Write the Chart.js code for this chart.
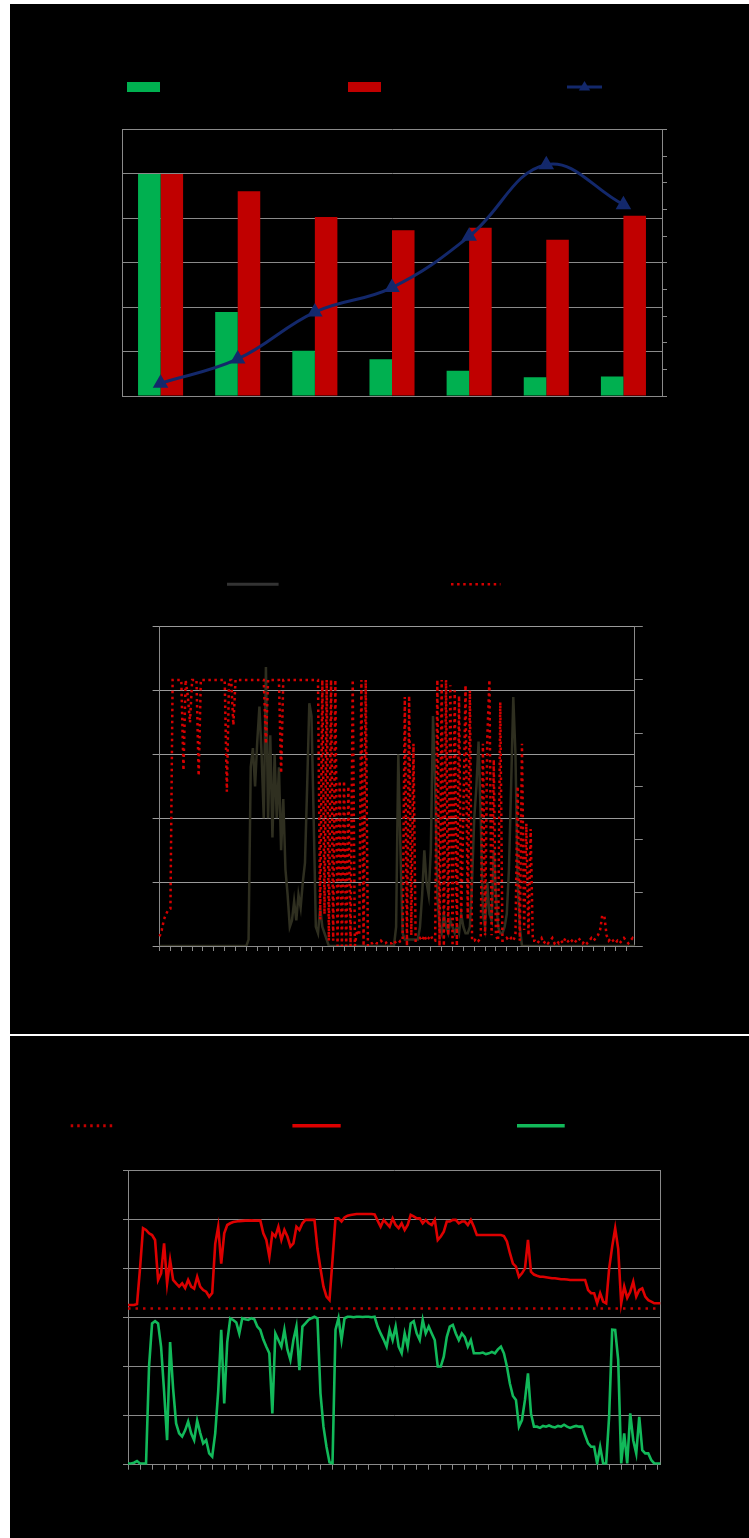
<!DOCTYPE html>
<html>
<head>
<meta charset="utf-8">
<script src="https://cdn.jsdelivr.net/npm/chart.js@4.4.1/dist/chart.umd.min.js"></script>
<style>
  html, body { margin: 0; padding: 0; background: #fff; }
  body { width: 749px; height: 1538px; position: relative; overflow: hidden; font-family: "Liberation Sans", Arial, sans-serif; }
  .panel { position: absolute; left: 10px; width: 739px; background: #000; }
  #p1 { top: 4px; height: 1030px; }
  #p2 { top: 1036px; height: 502px; }
  canvas { position: absolute; left: 0; }
</style>
</head>
<body>
<div class="panel" id="p1">
  <canvas id="c1" width="739" height="500" style="top:0"></canvas>
  <canvas id="c2" width="739" height="530" style="top:496px"></canvas>
</div>
<div class="panel" id="p2">
  <canvas id="c3" width="739" height="502" style="top:0"></canvas>
</div>
<script>
// ---------- chart 1: grouped bars with an index line ----------
const groupLabels = ['1', '2', '3', '4', '5', '6', '7'];
const shareValues = [50, 18.9, 10.2, 8.3, 5.7, 4.2, 4.4];
const rateValues = [50, 46.1, 40.3, 37.3, 37.9, 35.2, 40.6];
const indexValues = [0.48, 1.39, 3.15, 4.07, 5.99, 8.68, 7.18];
const leftTicks1 = { min: 0, max: 60, step: 10 };
const rightTicks1 = { min: 0, max: 10, step: 1 };

// ---------- chart 2: two sampled signals ----------
const loadSignal = [
  0,0,0,0,0,0,0,0,0,0, 0,0,0,0,0,0,0,0,0,0, 0,0,0,0,0,0,0,0,0,0, 0,0,0,0,0,0,0,0,0,0, 0,
  0.1,2.8,3.1,2.5,3.2,3.75,3.0,2.0,4.37,
  2.0,3.3,1.7,3.0,2.0,2.8,1.5,2.3,1.2,0.8,
  0.3,0.4,0.7,0.4,0.8,0.6,1.0,1.3,2.5,3.8,
  3.6,2.0,0.3,0.2,0.6,0.3,0.2,0.1,0,0,
  0,0,0,0,0,0,0,0,0,0, 0,0,0,0,0,0,0,0,0,0, 0,0,0,0,0,0,0,0,0,
  0.3,3.0,1.5,0.2,0.1,0.1,0.1,0.1,0.1,0.1,
  0.1,0.3,0.8,1.5,1.0,0.8,1.5,3.6,2.5,0.8,
  0.3,0.2,0.5,0.3,0.2,0.4,0.3,0.2,0.3,0.2,0.5,0.3,
  0.2,0.2,0.3,1.0,2.0,2.5,3.2,2.0,0.5,0.3,
  1.0,0.5,0.4,1.5,0.8,0.3,0.2,0.2,0.3,0.5,
  1.2,2.5,3.9,3.0,1.0,0.3,
  0,0,0,0,0,0,0,0,0,0, 0,0,0,0,0,0,0,0,0,0, 0,0,0,0,0,0,0,0,0,0,
  0,0,0,0,0,0,0,0,0,0, 0,0,0,0,0,0,0,0,0,0, 0,0,0
];
const stateSignal = [
  0.18,0.3,0.5,0.6,0.68,0.7,5,5,5,5,
  5,3.3,5,4.7,4.2,5,5,5,3.2,5,
  5,5,5,5,5,5,5,5,5,5,
  5,2.9,5,5,4.15,5,5,5,5,5,
  5,5,5,5,5,5,5,5,5,3.8,
  5,5,5,5,5,5,3.25,5,5,5,
  5,5,5,5,5,5,5,5,5,5,
  5,5,5,5,0.5,5,0.6,5,0.1,5,
  0.1,5,0,3.1,0,3.1,0,3,0,5,
  0,0.3,0.2,5,0,5,0,0.05,0.05,0.08,
  0.05,0.05,0.1,0.05,0.05,0.08,0.05,0.05,0.1,0.05,
  0.05,0.1,0.1,4.68,0,4.7,0.2,3.8,0.1,0.1,
  0.15,0.1,0.2,0.1,0.15,0.2,0.1,0.1,5,0,
  5,0,5,0.2,4.9,0,4.8,0,4.7,0.5,
  2.5,4.9,0.5,4.8,0.1,0.1,0.15,0.1,0.15,3.8,
  0.2,3.9,5,0.2,3.5,0.2,0.1,4.58,0.1,0.1,
  0.15,0.1,0.15,0.1,0.2,3,0.1,3.8,0.3,2.3,
  0.2,2.2,0.1,0.1,0.05,0.1,0.15,0.05,0.1,0.05,
  0.1,0.15,0.05,0.1,0.05,0.1,0.05,0.15,0.1,0.05,
  0.1,0.05,0.1,0.15,0.1,0.05,0.1,0.05,0.1,0.15,
  0.1,0.15,0.2,0.3,0.58,0.55,0.2,0.1,0.15,0.1,
  0.05,0.1,0.05,0.1,0.15,0.1,0.05,0.1,0.15,0.1
];
const leftTicks2 = { min: 0, max: 5, step: 1 };
const rightTicks2 = { min: 0, max: 6, step: 1 };
const tickEvery2 = 5;

// ---------- chart 3: two levels and a reference line ----------
const upperLevel = [
  65.1,65.1,65.1,65.5,80,96.4,95.7,94.3,93.6,91.6,
  75.3,78,90.2,73.9,83.4,75.3,73.9,72.6,73.9,72,
  75.3,72.6,71.8,76.6,72.6,71.2,70.5,68.5,70,90,
  97,82,94.3,97.7,98.4,98.9,99.1,99.3,99.4,99.5,
  99.5,99.6,99.5,99.5,99.5,94.3,91.6,84.8,94.3,93,
  97,91.6,95.7,93,88.9,90.2,97,95.7,98.4,99.8,
  99.8,99.8,99.8,88,80,72.6,68.5,67.1,83.4,100.4,
  100.4,99.1,100.8,101.5,101.8,102,102.2,102.2,102.2,102.2,
  102.2,102.2,102,99.5,97,99.8,98.4,97,100.4,97.7,
  96.4,98.4,95.7,97.7,101.8,101.2,100.4,100.4,98.4,99.8,
  98.4,97.7,99.8,91.6,93,95,99.1,99.1,99.8,99.8,
  98.4,99.1,99.1,97.7,99.8,97,93.6,93.6,93.6,93.6,
  93.6,93.6,93.6,93.6,93.6,93.2,91,86.2,82,80.7,
  76.6,78,80,91.6,78.7,77.5,77,76.6,76.6,76.4,
  76.2,76,76,75.8,75.6,75.6,75.5,75.3,75.3,75.3,
  75.3,75.3,75.3,71.2,69.9,69.9,65.8,69.9,66.5,65.8,
  80,88.9,96.4,88,65.8,72.6,68,70.5,74.6,68.5,
  71.2,71.9,68.5,67.1,66.5,65.8,65.8,65.8
];
const lowerLevel = [
  0.5,0.5,0.8,1.5,0.5,0.5,0.5,40,57.6,58.5,
  57.6,48,30,10,50,31,16.8,12.8,11.5,14,
  17.6,12.8,10,18,13,8.7,10,4.6,3.3,12.8,
  30,55,25,50,59.7,59,58,53.5,59.7,59.3,
  59,59.7,59.3,56.3,54.9,51,48.1,45.4,20.9,53.5,
  50.8,48.1,55,47,42.7,50.8,56.3,38.5,56.3,57.6,
  59,59.7,60.3,59.7,29.1,15.5,7.3,1,0.5,55,
  59.7,50.8,59.7,60.3,60.3,60.1,60.3,60.3,60.2,60.3,
  60.3,60.1,60.3,56.3,53.5,51,48.1,55,50.8,56.3,
  48.1,45.4,53.5,48.1,57.6,58.5,53.5,50.8,59,53.5,
  56.3,53.5,50.8,40,40,44,52,56.3,57,53.5,
  50.8,53.5,52,48.1,50.8,45.4,45.4,45.4,45.7,45.1,
  45.4,46,45.4,47,48.1,45.4,40,33,28,26.4,
  15.5,18.2,26.4,37.2,20.9,15.5,15.5,15,15.8,15.5,
  16,15.5,15.2,15.8,15.5,16.3,15.5,15,15.5,15.8,
  15.5,15.5,12,8.7,7.3,7.3,0.5,7.3,0.5,0.5,
  20,55,54.9,42.7,0.5,12.8,0.5,20.9,10,4.6,
  19.5,5.9,4.6,4.6,1.9,0.5,0.5,0.5
];
const referenceLevel = 63.7;
const leftTicks3 = { min: 0, max: 120, step: 20 };
const tickEvery3 = 4;

// ---------- shared styling ----------
const axisGray = '#8a8a8a';
const textBlack = '#000000';
const navy = '#13286b';
const barGreen = '#00b050';
const barRed = '#c00000';

Chart.defaults.font.family = '"Liberation Sans", Arial, sans-serif';
Chart.defaults.font.size = 11;
Chart.defaults.color = textBlack;

function fixedSize(size) {
  return scale => {
    if (scale.isHorizontal()) scale.height = size; else scale.width = size;
  };
}

function sampleLabels(values) {
  return values.map((_, i) => String(i));
}

// legend drawn at fixed spots above each plot, using each dataset's own style
const placedLegend = {
  id: 'placedLegend',
  afterDraw(chart, args, opts) {
    const ctx = chart.ctx;
    (opts.items || []).forEach(it => {
      const ds = chart.data.datasets[it.ds];
      ctx.save();
      if (it.kind === 'box') {
        ctx.fillStyle = ds.backgroundColor;
        ctx.fillRect(it.x, it.y - it.h / 2, it.w, it.h);
      } else {
        ctx.strokeStyle = it.color || ds.borderColor;
        ctx.lineWidth = it.lw || ds.borderWidth;
        ctx.lineCap = 'butt';
        ctx.setLineDash(it.dash || []);
        ctx.beginPath();
        ctx.moveTo(it.x, it.y);
        ctx.lineTo(it.x + it.w, it.y);
        ctx.stroke();
        if (it.marker === 'triangle') {
          const cx = it.x + it.w / 2, r = 6;
          ctx.setLineDash([]);
          ctx.fillStyle = ds.borderColor;
          ctx.beginPath();
          ctx.moveTo(cx, it.y - r);
          ctx.lineTo(cx + r * 0.95, it.y + r * 0.6);
          ctx.lineTo(cx - r * 0.95, it.y + r * 0.6);
          ctx.closePath();
          ctx.fill();
        }
      }
      ctx.fillStyle = textBlack;
      ctx.font = '12px "Liberation Sans", Arial, sans-serif';
      ctx.textBaseline = 'middle';
      ctx.fillText(ds.label, it.x + it.w + 6, it.y);
      ctx.restore();
    });
  }
};

// ---------- chart 1 ----------
new Chart(document.getElementById('c1'), {
  type: 'bar',
  data: {
    labels: groupLabels,
    datasets: [
      {
        type: 'line', label: 'Index', data: indexValues, yAxisID: 'y1',
        borderColor: navy, backgroundColor: navy, borderWidth: 3, tension: 0.4,
        pointStyle: 'triangle', pointRadius: 6, pointBackgroundColor: navy,
        pointBorderColor: navy, order: 0
      },
      {
        label: 'Share', data: shareValues, yAxisID: 'y', backgroundColor: barGreen,
        categoryPercentage: 0.584, barPercentage: 1, order: 1
      },
      {
        label: 'Rate', data: rateValues, yAxisID: 'y', backgroundColor: barRed,
        categoryPercentage: 0.584, barPercentage: 1, order: 1
      }
    ]
  },
  options: {
    responsive: false, animation: false, events: [],
    layout: { padding: { left: 92, right: 67, top: 125.5, bottom: 88 } },
    plugins: {
      legend: { display: false }, tooltip: { enabled: false },
      placedLegend: {
        items: [
          { ds: 1, kind: 'box', x: 117, y: 83, w: 33, h: 10 },
          { ds: 2, kind: 'box', x: 338, y: 83, w: 33, h: 10 },
          { ds: 0, kind: 'line', x: 557, y: 83, w: 35, lw: 3, marker: 'triangle' }
        ]
      }
    },
    scales: {
      x: {
        grid: { display: false }, border: { color: axisGray },
        ticks: { color: textBlack }, afterFit: fixedSize(20)
      },
      y: {
        min: leftTicks1.min, max: leftTicks1.max,
        ticks: { stepSize: leftTicks1.step, color: textBlack },
        grid: { color: axisGray, drawTicks: false }, border: { color: axisGray },
        afterFit: fixedSize(20)
      },
      y1: {
        position: 'right', min: rightTicks1.min, max: rightTicks1.max,
        ticks: { stepSize: rightTicks1.step, color: textBlack },
        grid: { drawOnChartArea: false, color: axisGray, tickLength: 5 },
        border: { color: axisGray }, afterFit: fixedSize(20)
      }
    }
  },
  plugins: [placedLegend]
});

// ---------- chart 2 ----------
const labels2 = sampleLabels(stateSignal);
new Chart(document.getElementById('c2'), {
  type: 'line',
  data: {
    labels: labels2,
    datasets: [
      {
        label: 'Load', data: loadSignal, yAxisID: 'y', borderColor: '#2f2f20',
        borderWidth: 2.5, pointRadius: 0, tension: 0, order: 1
      },
      {
        label: 'State', data: stateSignal, yAxisID: 'y1', borderColor: '#d40000',
        borderWidth: 2.5, borderDash: [2.5, 3.5], pointRadius: 0, tension: 0, order: 0
      }
    ]
  },
  options: {
    responsive: false, animation: false, events: [],
    layout: { padding: { left: 129.6, right: 94.2, top: 126.7, bottom: 64 } },
    plugins: {
      legend: { display: false }, tooltip: { enabled: false },
      placedLegend: {
        items: [
          { ds: 0, kind: 'line', x: 217, y: 84.3, w: 51.6, lw: 3, color: '#333333' },
          { ds: 1, kind: 'line', x: 441, y: 84.3, w: 49.5, lw: 2.5, dash: [2.5, 3.6] }
        ]
      }
    },
    scales: {
      x: {
        grid: { drawOnChartArea: false, color: axisGray, tickLength: 5 },
        border: { color: axisGray },
        ticks: {
          autoSkip: false, maxRotation: 0, color: textBlack, font: { size: 8 },
          callback: (v, i) => (i % tickEvery2 === 0 ? labels2[i] : null)
        },
        afterFit: fixedSize(20)
      },
      y: {
        min: leftTicks2.min, max: leftTicks2.max,
        ticks: { stepSize: leftTicks2.step, color: textBlack },
        grid: { color: '#9a9a9a', tickLength: 7 }, border: { color: axisGray },
        afterFit: fixedSize(20)
      },
      y1: {
        position: 'right', min: rightTicks2.min, max: rightTicks2.max,
        ticks: { stepSize: rightTicks2.step, color: textBlack },
        grid: { drawOnChartArea: false, color: axisGray, tickLength: 8 },
        border: { color: axisGray }, afterFit: fixedSize(20)
      }
    }
  },
  plugins: [placedLegend]
});

// ---------- chart 3 ----------
const labels3 = sampleLabels(lowerLevel);
new Chart(document.getElementById('c3'), {
  type: 'line',
  data: {
    labels: labels3,
    datasets: [
      {
        label: 'Reference', data: labels3.map(() => referenceLevel), borderColor: '#c00000',
        borderWidth: 2.5, borderDash: [2.5, 5], pointRadius: 0, order: 2
      },
      {
        label: 'Upper', data: upperLevel, borderColor: '#dd0000',
        borderWidth: 2.6, pointRadius: 0, tension: 0, order: 1
      },
      {
        label: 'Lower', data: lowerLevel, borderColor: '#12b95a',
        borderWidth: 2.6, pointRadius: 0, tension: 0, order: 0
      }
    ]
  },
  options: {
    responsive: false, animation: false, events: [],
    layout: { padding: { left: 98, right: 88.7, top: 134.3, bottom: 53.3 } },
    plugins: {
      legend: { display: false }, tooltip: { enabled: false },
      placedLegend: {
        items: [
          { ds: 0, kind: 'line', x: 60.7, y: 89.7, w: 45.4, lw: 3, dash: [2.5, 4] },
          { ds: 1, kind: 'line', x: 282.4, y: 89.7, w: 48.3, lw: 3.5 },
          { ds: 2, kind: 'line', x: 507, y: 89.7, w: 47.7, lw: 3.5 }
        ]
      }
    },
    scales: {
      x: {
        grid: { drawOnChartArea: false, color: axisGray, tickLength: 5 },
        border: { color: axisGray },
        ticks: {
          autoSkip: false, maxRotation: 0, color: textBlack, font: { size: 8 },
          callback: (v, i) => (i % tickEvery3 === 0 ? labels3[i] : null)
        },
        afterFit: fixedSize(20)
      },
      y: {
        min: leftTicks3.min, max: leftTicks3.max,
        ticks: { stepSize: leftTicks3.step, color: textBlack },
        grid: { color: axisGray, tickLength: 5 }, border: { color: axisGray },
        afterFit: fixedSize(20)
      },
      yEdge: {
        position: 'right', min: 0, max: 1,
        ticks: { display: false },
        grid: { drawOnChartArea: false, drawTicks: false },
        border: { color: axisGray }, afterFit: fixedSize(0)
      }
    }
  },
  plugins: [placedLegend]
});
</script>
</body>
</html>
